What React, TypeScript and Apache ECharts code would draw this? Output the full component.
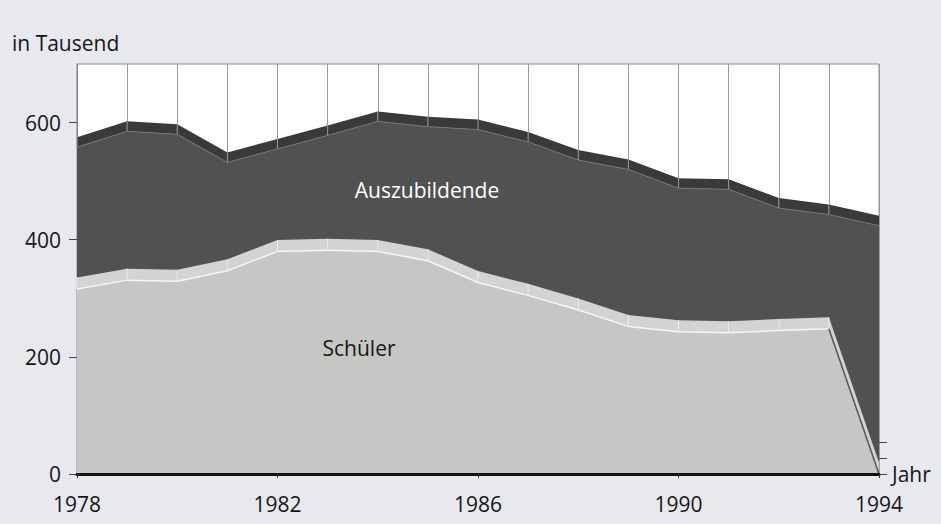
import React, { useEffect, useRef } from 'react';
import * as echarts from 'echarts';

const years = ['1978', '1979', '1980', '1981', '1982', '1983', '1984', '1985', '1986', '1987', '1988', '1989', '1990', '1991', '1992', '1993', '1994'];
const schueler = [316, 331, 329, 347, 380, 382, 380, 364, 327, 305, 280, 252, 243, 241, 245, 248, 0];
const auszubildende = [242, 254, 251, 185, 175, 196, 222, 229, 261, 262, 256, 268, 245, 245, 209, 195, 424];
const yTicks = [0, 200, 400, 600];
const rightTicks = [0, 27, 55];

const FONT = 'Open Sans';
const TEXT = '#161616';
const PAPER = '#e7e9ed';

export default function App() {
  const ref = useRef<HTMLDivElement>(null);
  useEffect(() => {
    if (!ref.current) return;
    const chart = echarts.init(ref.current, undefined, { renderer: 'svg' });
    const totals = schueler.map((s, i) => s + auszubildende[i]);

    const bandItem = (params: any, api: any) => {
      const i = params.dataIndex;
      if (i >= years.length - 1) return null;
      const s0 = api.coord([i, schueler[i]]);
      const s1 = api.coord([i + 1, schueler[i + 1]]);
      const t0 = api.coord([i, totals[i]]);
      const t1 = api.coord([i + 1, totals[i + 1]]);
      const dS = 11.5;
      const dT = 10;
      const last = i === years.length - 2;
      const children: any[] = [
        {
          type: 'polygon',
          shape: { points: [s0, s1, [s1[0], s1[1] - dS], [s0[0], s0[1] - dS]] },
          style: { fill: '#d3d3d1' },
        },
        {
          type: 'polygon',
          shape: { points: [t0, t1, [t1[0], t1[1] - dT], [t0[0], t0[1] - dT]] },
          style: { fill: '#3a3a3a' },
        },
        {
          type: 'line',
          shape: { x1: s0[0], y1: s0[1], x2: s0[0], y2: s0[1] - dS },
          style: { stroke: '#efefef', lineWidth: 1 },
        },
        {
          type: 'line',
          shape: { x1: t0[0], y1: t0[1], x2: t0[0], y2: t0[1] - dT },
          style: { stroke: '#9a9a9a', lineWidth: 1 },
        },
        {
          type: 'line',
          shape: { x1: s0[0], y1: s0[1], x2: s1[0], y2: s1[1] },
          style: { stroke: last ? '#555' : '#f6f6f6', lineWidth: 1.5 },
        },
        {
          type: 'line',
          shape: { x1: t0[0], y1: t0[1], x2: t1[0], y2: t1[1] },
          style: { stroke: '#747474', lineWidth: 1 },
        },
      ];
      return { type: 'group', children };
    };

    chart.setOption({
      animation: false,
      backgroundColor: PAPER,
      textStyle: { fontFamily: FONT },
      grid: {
        left: 77,
        right: 62,
        top: 64,
        bottom: 50,
        show: true,
        backgroundColor: '#ffffff',
        borderColor: '#8c8c8c',
        borderWidth: 1,
      },
      xAxis: [
        {
          type: 'category',
          data: years,
          boundaryGap: false,
          position: 'bottom',
          z: 10,
          axisLine: { show: true, lineStyle: { color: '#111', width: 3 } },
          axisTick: { show: true, interval: 3, length: 4, lineStyle: { color: '#333' } },
          axisLabel: { interval: 3, fontSize: 21, color: TEXT, margin: 19, fontFamily: FONT },
          splitLine: { show: false },
          name: 'Jahr',
          nameLocation: 'end',
          nameGap: 13,
          nameTextStyle: { fontSize: 21, color: TEXT, fontFamily: FONT, padding: [4, 0, 0, 0] },
        },
        {
          type: 'category',
          data: years,
          boundaryGap: false,
          position: 'bottom',
          z: 0,
          axisLine: { show: false },
          axisTick: { show: false },
          axisLabel: { show: false },
          splitLine: { show: true, interval: 0, lineStyle: { color: '#9c9c9c', width: 1 } },
        },
      ],
      yAxis: [
        {
          type: 'value',
          min: 0,
          max: 700,
          position: 'left',
          axisLine: { show: true, lineStyle: { color: '#7a7a7a', width: 1 } },
          axisTick: { show: true, customValues: yTicks, length: 8, lineStyle: { color: '#444' } },
          axisLabel: { customValues: yTicks, fontSize: 21, color: TEXT, margin: 16, fontFamily: FONT },
          splitLine: { show: false },
        },
        {
          type: 'value',
          min: 0,
          max: 700,
          position: 'right',
          axisLine: { show: false },
          axisTick: { show: true, customValues: rightTicks, length: 8, lineStyle: { color: '#444' } },
          axisLabel: { show: false },
          splitLine: { show: false },
        },
      ],
      series: [
        {
          name: 'Schüler',
          type: 'line',
          stack: 'total',
          data: schueler,
          symbol: 'none',
          lineStyle: { width: 0 },
          areaStyle: { color: '#c6c6c4', opacity: 1 },
          z: 2,
        },
        {
          name: 'Auszubildende',
          type: 'line',
          stack: 'total',
          data: auszubildende,
          symbol: 'none',
          lineStyle: { width: 0 },
          areaStyle: { color: '#515151', opacity: 1 },
          z: 2,
        },
        {
          name: 'Tiefe',
          type: 'custom',
          data: years.map((_, i) => [i, totals[i]]),
          renderItem: bandItem,
          z: 3,
          silent: true,
        },
      ],
      graphic: [
        {
          type: 'text',
          left: 12,
          top: 32,
          style: { text: 'in Tausend', fontSize: 21, fill: TEXT, fontFamily: FONT },
        },
        {
          type: 'text',
          x: 427,
          y: 190,
          z: 20,
          style: { text: 'Auszubildende', fontSize: 21, fill: '#ffffff', fontFamily: FONT, align: 'center', verticalAlign: 'middle' },
        },
        {
          type: 'text',
          x: 359,
          y: 348,
          z: 20,
          style: { text: 'Schüler', fontSize: 21, fill: TEXT, fontFamily: FONT, align: 'center', verticalAlign: 'middle' },
        },
      ],
    });
    return () => chart.dispose();
  }, []);
  return (
    <div style={{ position: 'fixed', left: 0, top: 0, width: 941, height: 524, background: PAPER }}>
      <div ref={ref} style={{ width: 941, height: 524 }} />
    </div>
  );
}
